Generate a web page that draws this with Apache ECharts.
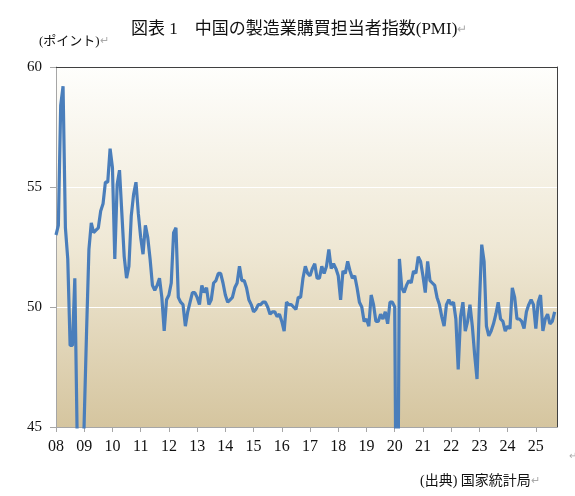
<!DOCTYPE html>
<html>
<head>
<meta charset="utf-8">
<script src="https://cdn.jsdelivr.net/npm/echarts@6/dist/echarts.min.js"></script>
<style>
html, body { margin: 0; padding: 0; background: #fff; }
#chart { width: 575px; height: 496px; }
</style>
</head>
<body>
<div id="chart"></div>
<script>
// 年ラベル (x軸)
var years = ['08','09','10','11','12','13','14','15','16','17','18','19','20','21','22','23','24','25'];
// 最後の月 (2025年10月まで軸を伸ばす)
var lastMonth = 10;

// 製造業PMI 月次 2008/01 - 2025/09
var pmi = [
  53.0,53.4,58.4,59.2,53.3,52.0,48.4,48.4,51.2,44.6,38.8,41.2,
  45.3,49.0,52.4,53.5,53.1,53.2,53.3,54.0,54.3,55.2,55.2,56.6,
  55.8,52.0,55.1,55.7,53.9,52.1,51.2,51.7,53.8,54.7,55.2,53.9,
  52.9,52.2,53.4,52.9,52.0,50.9,50.7,50.9,51.2,50.4,49.0,50.3,
  50.5,51.0,53.1,53.3,50.4,50.2,50.1,49.2,49.8,50.2,50.6,50.6,
  50.4,50.1,50.9,50.6,50.8,50.1,50.3,51.0,51.1,51.4,51.4,51.0,
  50.5,50.2,50.3,50.4,50.8,51.0,51.7,51.1,51.1,50.8,50.3,50.1,
  49.8,49.9,50.1,50.1,50.2,50.2,50.0,49.7,49.8,49.8,49.6,49.7,
  49.4,49.0,50.2,50.1,50.1,50.0,49.9,50.4,50.4,51.2,51.7,51.4,
  51.3,51.6,51.8,51.2,51.2,51.7,51.4,51.7,52.4,51.6,51.8,51.6,
  51.3,50.3,51.5,51.4,51.9,51.5,51.2,51.3,50.8,50.2,50.0,49.4,
  49.5,49.2,50.5,50.1,49.4,49.4,49.7,49.5,49.8,49.3,50.2,50.2,
  50.0,35.7,52.0,50.8,50.6,50.9,51.1,51.0,51.5,51.4,52.1,51.9,
  51.3,50.6,51.9,51.1,51.0,50.9,50.4,50.1,49.6,49.2,50.1,50.3,
  50.1,50.2,49.5,47.4,49.6,50.2,49.0,49.4,50.1,49.2,48.0,47.0,
  50.1,52.6,51.9,49.2,48.8,49.0,49.3,49.7,50.2,49.5,49.4,49.0,
  49.2,49.1,50.8,50.4,49.5,49.5,49.4,49.1,49.8,50.1,50.3,50.1,
  49.1,50.2,50.5,49.0,49.5,49.7,49.3,49.4,49.8
];

var months = [];
for (var i = 0; i < years.length; i++) {
  var n = (i === years.length - 1) ? lastMonth : 12;
  for (var m = 1; m <= n; m++) {
    months.push(years[i] + '-' + m);
  }
}

var serifFont = '"Liberation Serif", "Noto Sans CJK JP", serif';
var chart = echarts.init(document.getElementById('chart'));

var option = {
  animation: false,
  title: [{
    text: '図表 1　中国の製造業購買担当者指数(PMI){r|↵}',
    left: 126,
    top: 16,
    textStyle: {
      fontFamily: serifFont,
      fontSize: 17,
      fontWeight: 'normal',
      color: '#111',
      rich: { r: { color: '#aaa', fontSize: 12, fontFamily: serifFont } }
    }
  }, {
    text: '(ポイント){r|↵}',
    left: 34,
    top: 30,
    textStyle: {
      fontFamily: serifFont,
      fontSize: 13,
      fontWeight: 'normal',
      color: '#111',
      rich: { r: { color: '#aaa', fontSize: 11, fontFamily: serifFont } }
    }
  }, {
    text: '(出典) 国家統計局{r|↵}',
    left: 415,
    top: 469,
    textStyle: {
      fontFamily: serifFont,
      fontSize: 14,
      fontWeight: 'normal',
      color: '#111',
      rich: { r: { color: '#aaa', fontSize: 11, fontFamily: serifFont } }
    }
  }, {
    text: '↵',
    left: 564,
    top: 446,
    textStyle: { fontSize: 10, color: '#aaa', fontWeight: 'normal' }
  }],
  grid: {
    left: 56,
    right: 18,
    top: 67,
    bottom: 69,
    show: true,
    borderWidth: 0,
    backgroundColor: {
      type: 'linear', x: 0, y: 0, x2: 0, y2: 1,
      colorStops: [
        { offset: 0, color: '#fefefc' },
        { offset: 0.5, color: '#efe8d5' },
        { offset: 1, color: '#d5c59f' }
      ]
    }
  },
  xAxis: [{
    type: 'category',
    data: months,
    boundaryGap: false,
    position: 'bottom',
    axisLine: { show: true, lineStyle: { color: '#a6a6a6', width: 1 } },
    axisTick: {
      show: true,
      length: 5,
      interval: function (idx) { return idx % 12 === 0; },
      lineStyle: { color: '#a6a6a6' }
    },
    axisLabel: {
      interval: function (idx) { return idx % 12 === 0; },
      formatter: function (v) { return v.split('-')[0]; },
      margin: 12,
      fontFamily: serifFont,
      fontSize: 16,
      color: '#111'
    },
    splitLine: { show: false }
  }, {
    type: 'category',
    data: months,
    boundaryGap: false,
    position: 'top',
    axisLine: { show: true, lineStyle: { color: '#404040', width: 1 } },
    axisTick: { show: false },
    axisLabel: { show: false },
    splitLine: { show: false }
  }],
  yAxis: [{
    type: 'value',
    min: 45,
    max: 60,
    interval: 5,
    position: 'left',
    axisLine: { show: true, lineStyle: { color: '#a6a6a6', width: 1 } },
    axisTick: { show: true, length: 6, lineStyle: { color: '#a6a6a6' } },
    axisLabel: {
      margin: 14,
      fontFamily: serifFont,
      fontSize: 15,
      color: '#111'
    },
    splitLine: { show: true, lineStyle: { color: '#ffffff', width: 1 } }
  }, {
    type: 'value',
    min: 45,
    max: 60,
    interval: 5,
    position: 'right',
    axisLine: { show: true, lineStyle: { color: '#404040', width: 1 } },
    axisTick: { show: false },
    axisLabel: { show: false },
    splitLine: { show: false }
  }],
  series: [{
    name: 'PMI',
    type: 'line',
    data: pmi,
    symbol: 'none',
    clip: true,
    lineStyle: { color: '#4a7ebb', width: 3.2 },
    itemStyle: { color: '#4a7ebb' }
  }]
};

chart.setOption(option);
</script>
</body>
</html>
